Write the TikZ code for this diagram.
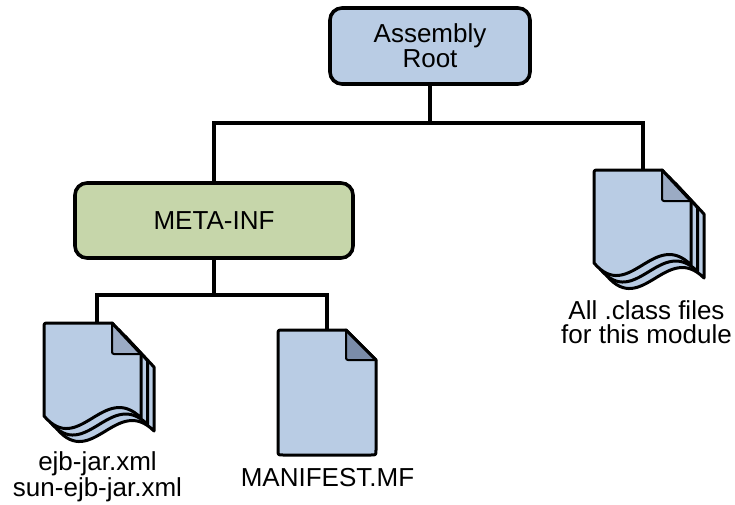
\documentclass[tikz,border=0pt]{standalone}
\usepackage{fontspec}
\setmainfont{Liberation Sans}
\definecolor{pageblue}{HTML}{B9CCE4}
\definecolor{boxgreen}{HTML}{C6D6AA}
\definecolor{foldblue}{HTML}{9BABC4}
\definecolor{folddark}{HTML}{7A8CA9}
\tikzset{
  box/.style={draw=black, line width=3.6pt, rounded corners=12pt, inner sep=0pt,
    align=center, font=\fontsize{26}{25}\selectfont},
  conn/.style={draw=black, line width=3.2pt},
  lbl/.style={inner sep=0pt, align=center, font=\fontsize{26}{24}\selectfont},
  pageline/.style={draw=black, line width=3pt, fill=pageblue, line join=round},
  foldline/.style={draw=black, line width=2pt, rounded corners=2pt},
}
\newcommand{\stackdoc}{%
  \foreach \k in {13,6.5,0}{%
    \begin{scope}[shift={(\k,\k)}]
      \draw[pageline] (0,93) -- (0,5) .. controls (0,0) .. (5,0) -- (68,0) -- (97,31)
        -- (97,95) .. controls (60,58) and (35,134) .. (0,93) -- cycle;
    \end{scope}
  }%
  \fill[foldblue] (68,0) -- (68,31) -- (97,31) -- cycle;
  \draw[foldline] (68,0) -- (68,31) -- (97,31);
  \draw[line width=3pt, line cap=round] (68,0) -- (97,31);
}
\begin{document}
\begin{tikzpicture}[x=1pt,y=-1pt]
\useasboundingbox (0,0) rectangle (735,505);

% boxes
\node[box, fill=pageblue, minimum width=200pt, minimum height=76pt] (root) at (430,46) {Assembly\\Root};
\node[box, fill=boxgreen, minimum width=278pt, minimum height=75pt] (meta) at (214,220.5) {META-INF};

% anchor points of documents
\coordinate (cls) at (643,170);
\coordinate (ejb) at (97,323);
\coordinate (mf) at (327,330);
\coordinate (bus1) at (0,123);
\coordinate (bus2) at (0,295);

% connectors
\draw[conn] (root.south) -- (root.south |- bus1);
\draw[conn] (meta.north) -- (meta.north |- bus1) -- (cls |- bus1) -- (cls);
\draw[conn] (meta.south) -- (meta.south |- bus2);
\draw[conn] (ejb) -- (ejb |- bus2) -- (mf |- bus2) -- (mf);

% stacked documents
\begin{scope}[shift={(44,323)}]
  \stackdoc
\end{scope}
\begin{scope}[shift={(594,170)}]
  \stackdoc
\end{scope}

% single document
\begin{scope}[shift={(278,330)}]
  \draw[pageline] (0,120) -- (0,5) .. controls (0,0) .. (5,0) -- (68,0) -- (98,30)
    -- (98,120) .. controls (98,125) .. (93,125) -- (5,125) .. controls (0,125) .. (0,120) -- cycle;
  \fill[folddark] (68,0) -- (68,30) -- (98,30) -- cycle;
  \draw[foldline] (68,0) -- (68,30) -- (98,30);
  \draw[line width=3pt, line cap=round] (68,0) -- (98,30);
\end{scope}

% labels
\node[lbl, anchor=base] (ejblbl) at (97.5,496) {ejb-jar.xml\\sun-ejb-jar.xml};
\node[lbl, anchor=base] (mflbl) at (327.5,486) {MANIFEST.MF};
\node[lbl, anchor=base] (clslbl) at (646.5,343) {All .class files\\for this module};
\end{tikzpicture}
\end{document}
